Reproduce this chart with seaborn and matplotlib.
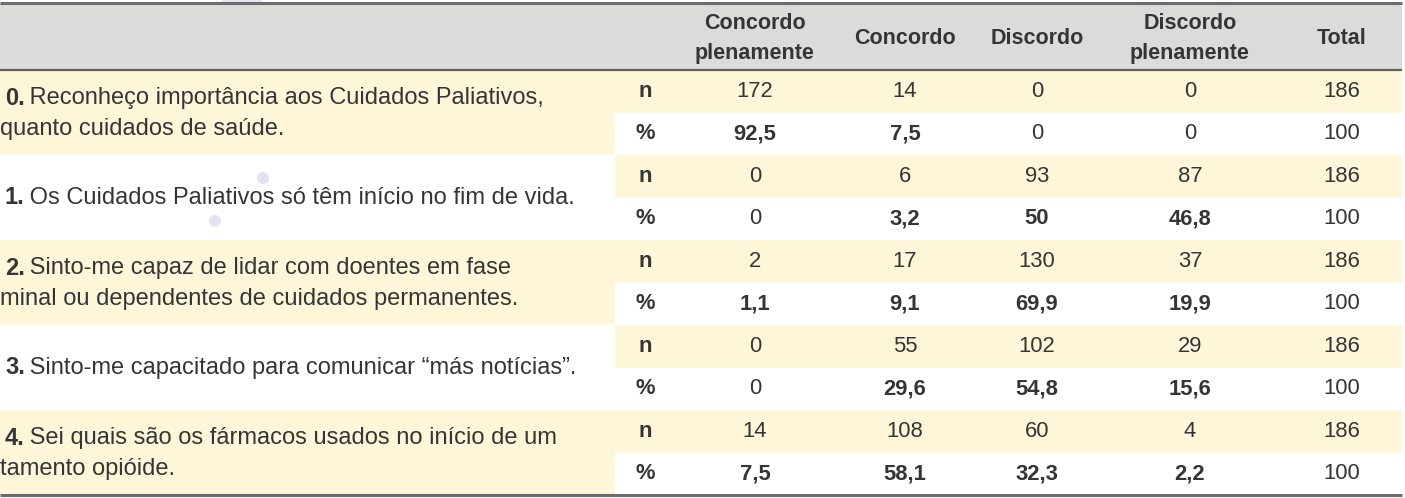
import numpy as np
import matplotlib
matplotlib.use("Agg")
import matplotlib.pyplot as plt
from matplotlib.patches import Rectangle, Circle
import seaborn as sns

# dados da tabela
colunas = ["Concordo\nplenamente", "Concordo", "Discordo", "Discordo\nplenamente", "Total"]
itens_num = ["0.", "1.", "2.", "3.", "4."]
itens_texto = [
    [" Reconheço importância aos Cuidados Paliativos,", "quanto cuidados de saúde."],
    [" Os Cuidados Paliativos só têm início no fim de vida."],
    [" Sinto-me capaz de lidar com doentes em fase", "minal ou dependentes de cuidados permanentes."],
    [" Sinto-me capacitado para comunicar \u201cmás notícias\u201d."],
    [" Sei quais são os fármacos usados no início de um", "tamento opióide."],
]
n_valores = [
    [172, 14, 0, 0, 186],
    [0, 6, 93, 87, 186],
    [2, 17, 130, 37, 186],
    [0, 55, 102, 29, 186],
    [14, 108, 60, 4, 186],
]
pct_valores = [
    [92.5, 7.5, 0, 0, 100],
    [0, 3.2, 50, 46.8, 100],
    [1.1, 9.1, 69.9, 19.9, 100],
    [0, 29.6, 54.8, 15.6, 100],
    [7.5, 58.1, 32.3, 2.2, 100],
]

sns.set_theme(style="white")
plt.rcParams["font.family"] = ["Liberation Sans", "DejaVu Sans"]

COR_TEXTO = "#353535"
COR_CAB = "#d9dcd9"
COR_AMARELO = "#fdf6d8"
FS_LAB = 17
FS_CAB = 15.5
FS_NUM = 15.8

W, H = 1405, 498
fig = plt.figure(figsize=(W / 100, H / 100), dpi=100)
ax = fig.add_axes([0, 0, 1, 1])
ax.set_xlim(0, W)
ax.set_ylim(H, 0)
ax.axis("off")

x_nd = 645
x_cols = [755, 905, 1037, 1190, 1342]
x_div = 615
topo, cab_fim, fundo = 3, 70, 495
altura_item = (fundo - cab_fim) / len(itens_num)

# cabecalho
ax.add_patch(Rectangle((0, topo), 1402, cab_fim - topo, color=COR_CAB, lw=0))

# fundos das linhas
for i in range(len(itens_num)):
    y0 = cab_fim + i * altura_item
    if i % 2 == 0:
        ax.add_patch(Rectangle((0, y0), x_div, altura_item, color=COR_AMARELO, lw=0))
    ax.add_patch(Rectangle((x_div, y0), 1402 - x_div, altura_item / 2, color=COR_AMARELO, lw=0))

# marcas d'agua
for cx, cy in [(263, 178), (215, 221)]:
    ax.add_patch(Circle((cx, cy), 6, color="#e2e3f0", lw=0))
ax.add_patch(Rectangle((222, 0), 40, 4, color="#e6e6f2", lw=0))

# linhas
ax.plot([0, 1402], [topo, topo], color="#6a6d6b", lw=2.2, solid_capstyle="butt")
ax.plot([0, 1402], [cab_fim, cab_fim], color="#5f625f", lw=1.6, solid_capstyle="butt")
ax.plot([0, 1402], [fundo, fundo], color="#6a6d6b", lw=2.2, solid_capstyle="butt")

for x, c in zip(x_cols, colunas):
    ax.text(x, (topo + cab_fim) / 2 + 2, c, ha="center", va="center", fontsize=FS_CAB,
            fontweight="bold", color=COR_TEXTO, linespacing=1.6)

def fmt(v):
    if float(v).is_integer():
        return str(int(v))
    return f"{v:.1f}".replace(".", ",")

fig.canvas.draw()
renderer = fig.canvas.get_renderer()

for i in range(len(itens_num)):
    y0 = cab_fim + i * altura_item
    y_n = y0 + altura_item * 0.25
    y_p = y0 + altura_item * 0.75
    ax.text(x_nd, y_n, "n", ha="center", va="center", fontsize=FS_NUM, fontweight="bold", color=COR_TEXTO)
    ax.text(x_nd, y_p, "%", ha="center", va="center", fontsize=FS_NUM, fontweight="bold", color=COR_TEXTO)
    for j, x in enumerate(x_cols):
        ax.text(x, y_n, str(n_valores[i][j]), ha="center", va="center", fontsize=FS_NUM, color=COR_TEXTO)
        v = pct_valores[i][j]
        peso = "bold" if (v != 0 and j < 4) else "normal"
        ax.text(x, y_p, fmt(v), ha="center", va="center", fontsize=FS_NUM, fontweight=peso, color=COR_TEXTO)

    linhas = itens_texto[i]
    if len(linhas) == 1:
        ys = [y0 + altura_item / 2]
    else:
        ys = [y0 + altura_item * 0.33, y0 + altura_item * 0.69]
    t = ax.text(5, ys[0], itens_num[i], ha="left", va="center", fontsize=FS_LAB,
                fontweight="bold", color=COR_TEXTO)
    bb = t.get_window_extent(renderer)
    x_seg = ax.transData.inverted().transform((bb.x1, 0))[0] - 2
    ax.text(x_seg, ys[0], linhas[0], ha="left", va="center", fontsize=FS_LAB, color=COR_TEXTO)
    if len(linhas) > 1:
        ax.text(0, ys[1], linhas[1], ha="left", va="center", fontsize=FS_LAB, color=COR_TEXTO)

fig.savefig("out.png", dpi=100)
